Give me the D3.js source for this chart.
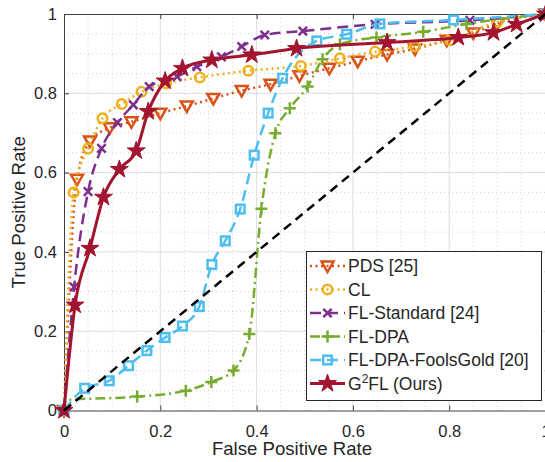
<!DOCTYPE html>
<html><head><meta charset="utf-8">
<script src="https://cdn.jsdelivr.net/npm/d3@7"></script>
<style>
body{margin:0;background:#fff}
svg{display:block;font-family:"Liberation Sans",Arial,Helvetica,sans-serif}
</style>
</head><body>
<svg id="chart" width="545" height="462"></svg>
<script>
// ---- data ----
const xTicks = [0, 0.2, 0.4, 0.6, 0.8, 1];
const yTicks = [0, 0.2, 0.4, 0.6, 0.8, 1];
const xTickLabels = ["0", "0.2", "0.4", "0.6", "0.8", "1"];
const yTickLabels = ["0", "0.2", "0.4", "0.6", "0.8", "1"];
const xLabel = "False Positive Rate";
const yLabel = "True Positive Rate";
const seriesNames = ["PDS [25]", "CL", "FL-Standard [24]", "FL-DPA", "FL-DPA-FoolsGold [20]", "G2FL (Ours)"];

const pdsFPR = [0, 0.027, 0.054, 0.095, 0.14, 0.2, 0.255, 0.31, 0.369, 0.429, 0.489, 0.551, 0.61, 0.671, 0.729, 0.795, 0.85, 0.9, 1];
const pdsTPR = [0, 0.583, 0.68, 0.713, 0.728, 0.75, 0.768, 0.787, 0.807, 0.823, 0.844, 0.863, 0.881, 0.898, 0.912, 0.934, 0.952, 0.977, 1];

const clFPR = [0, 0.02, 0.05, 0.08, 0.12, 0.161, 0.212, 0.282, 0.383, 0.492, 0.573, 0.646, 0.729, 0.802, 0.9, 1];
const clTPR = [0, 0.55, 0.661, 0.737, 0.773, 0.804, 0.825, 0.84, 0.857, 0.869, 0.888, 0.905, 0.918, 0.934, 0.98, 1];

const stdFPR = [0, 0.021, 0.05, 0.078, 0.111, 0.144, 0.177, 0.235, 0.276, 0.327, 0.369, 0.417, 0.496, 0.646, 0.843, 1];
const stdTPR = [0, 0.311, 0.552, 0.661, 0.726, 0.771, 0.817, 0.842, 0.867, 0.892, 0.918, 0.947, 0.957, 0.974, 0.984, 1];

const dpaFPR = [0, 0.004, 0.152, 0.253, 0.306, 0.352, 0.385, 0.41, 0.439, 0.469, 0.506, 0.537, 0.573, 0.649, 0.746, 0.836, 1];
const dpaTPR = [0, 0.026, 0.035, 0.05, 0.072, 0.101, 0.193, 0.509, 0.699, 0.762, 0.817, 0.886, 0.924, 0.941, 0.955, 0.975, 1];
const dpaNoMarker = [1];

const fgFPR = [0, 0.043, 0.094, 0.134, 0.172, 0.21, 0.246, 0.281, 0.307, 0.335, 0.366, 0.395, 0.424, 0.454, 0.525, 0.587, 0.656, 0.809, 1];
const fgTPR = [0, 0.056, 0.075, 0.113, 0.151, 0.184, 0.213, 0.262, 0.368, 0.428, 0.508, 0.644, 0.75, 0.838, 0.932, 0.949, 0.975, 0.985, 1];

const g2FPR = [0, 0.023, 0.054, 0.082, 0.115, 0.15, 0.175, 0.21, 0.246, 0.307, 0.39, 0.483, 0.671, 0.819, 0.892, 0.94, 1];
const g2TPR = [0, 0.266, 0.409, 0.538, 0.608, 0.655, 0.754, 0.831, 0.863, 0.884, 0.897, 0.913, 0.928, 0.941, 0.953, 0.974, 1];

const diagFPR = [0, 1];
const diagTPR = [0, 1];

// ---- styles ----
const colors = ["#D95319", "#EDB120", "#7E2F8E", "#77AC30", "#4DBEEE", "#A2142F"];
const dashes = ["2,3.5", "2,3.5", "11,6", "10,4,2,4", "11,6", null];
const markers = ["tri", "circle", "x", "plus", "square", "star"];
const widths = [2.5, 2.5, 2.5, 2.5, 2.5, 3];

const seriesData = [
  {fpr: pdsFPR, tpr: pdsTPR, skip: []},
  {fpr: clFPR, tpr: clTPR, skip: []},
  {fpr: stdFPR, tpr: stdTPR, skip: []},
  {fpr: dpaFPR, tpr: dpaTPR, skip: dpaNoMarker},
  {fpr: fgFPR, tpr: fgTPR, skip: []},
  {fpr: g2FPR, tpr: g2TPR, skip: []}
];

const W = 545, H = 462;
const L = 64, R = 545.5, T = 14, B = 410.5;
const x = d3.scaleLinear().domain([0, 1]).range([L, R]);
const y = d3.scaleLinear().domain([0, 1]).range([B, T]);

const svg = d3.select("#chart");
const textColor = "#262626";

// grid
const minor = d3.range(0.05, 1, 0.05).filter(v => Math.abs(v * 5 - Math.round(v * 5)) > 1e-6);
const grid = svg.append("g");
grid.selectAll(".mx").data(minor).join("line")
  .attr("x1", d => x(d)).attr("x2", d => x(d)).attr("y1", T).attr("y2", B)
  .attr("stroke", "#c8c8c8").attr("stroke-width", 0.8).attr("stroke-dasharray", "1,3");
grid.selectAll(".my").data(minor).join("line")
  .attr("y1", d => y(d)).attr("y2", d => y(d)).attr("x1", L).attr("x2", R)
  .attr("stroke", "#c8c8c8").attr("stroke-width", 0.8).attr("stroke-dasharray", "1,3");
grid.selectAll(".gx").data(xTicks.slice(1, -1)).join("line")
  .attr("x1", d => x(d)).attr("x2", d => x(d)).attr("y1", T).attr("y2", B)
  .attr("stroke", "#dedede").attr("stroke-width", 1);
grid.selectAll(".gy").data(yTicks.slice(1, -1)).join("line")
  .attr("y1", d => y(d)).attr("y2", d => y(d)).attr("x1", L).attr("x2", R)
  .attr("stroke", "#dedede").attr("stroke-width", 1);

// axes
const xAxis = d3.axisBottom(x).tickValues(xTicks).tickFormat((d, i) => xTickLabels[i])
  .tickSizeInner(-5).tickSizeOuter(0).tickPadding(14.5);
const yAxis = d3.axisLeft(y).tickValues(yTicks).tickFormat((d, i) => yTickLabels[i])
  .tickSizeInner(-5).tickSizeOuter(0).tickPadding(7);
const gx = svg.append("g").attr("transform", `translate(0,${B})`).call(xAxis);
const gy = svg.append("g").attr("transform", `translate(${L},0)`).call(yAxis);
// top axis line and ticks
const gt = svg.append("g").attr("transform", `translate(0,${T})`)
  .call(d3.axisTop(x).tickValues(xTicks).tickFormat("").tickSizeInner(-5).tickSizeOuter(0));
[gx, gy, gt].forEach(g => {
  g.select(".domain").attr("stroke", "#404040").attr("stroke-width", 1);
  g.selectAll(".tick line").attr("stroke", "#404040");
  g.selectAll("text").attr("fill", textColor).style("font-size", "16.5px")
    .style("font-family", '"Liberation Sans",Arial,sans-serif');
});

// axis labels
svg.append("text").attr("x", 292).attr("y", 455).attr("text-anchor", "middle")
  .attr("fill", textColor).style("font-size", "18.6px").text(xLabel);
svg.append("text").attr("transform", `translate(25,${(T + B) / 2}) rotate(-90)`)
  .attr("text-anchor", "middle").attr("fill", textColor).style("font-size", "18.6px").text(yLabel);

// marker drawing
function drawMarker(g, type, color, cx, cy) {
  const m = g.append("g").attr("transform", `translate(${cx},${cy})`);
  if (type === "tri") {
    m.append("path").attr("d", "M-6,-4.5L6,-4.5L0,6Z").attr("fill", "none")
      .attr("stroke", color).attr("stroke-width", 2.5).attr("stroke-linejoin", "miter");
  } else if (type === "circle") {
    m.append("circle").attr("r", 4.8).attr("fill", "none").attr("stroke", color).attr("stroke-width", 2.5);
  } else if (type === "square") {
    m.append("rect").attr("x", -4.3).attr("y", -4.3).attr("width", 8.6).attr("height", 8.6)
      .attr("fill", "none").attr("stroke", color).attr("stroke-width", 2.5);
  } else if (type === "x") {
    m.append("path").attr("d", "M-4.2,-4.2L4.2,4.2M-4.2,4.2L4.2,-4.2").attr("stroke", color).attr("stroke-width", 2.5);
  } else if (type === "plus") {
    m.append("path").attr("d", "M-6,0L6,0M0,-6L0,6").attr("stroke", color).attr("stroke-width", 2.5);
  } else if (type === "star") {
    m.append("path").attr("d", d3.symbol(d3.symbolStar, 100)()).attr("fill", color)
      .attr("stroke", color).attr("stroke-width", 1);
  }
}

const plot = svg.append("g");
const line = d3.line().x(d => x(d[0])).y(d => y(d[1])).curve(d3.curveMonotoneX);

seriesData.forEach((s, i) => {
  const pts = s.fpr.map((f, j) => [f, s.tpr[j]]);
  const p = plot.append("path").datum(pts).attr("d", line).attr("fill", "none")
    .attr("stroke", colors[i]).attr("stroke-width", widths[i]).attr("stroke-linejoin", "round");
  if (dashes[i]) p.attr("stroke-dasharray", dashes[i]);
  const mg = plot.append("g");
  pts.forEach((pt, j) => {
    if (s.skip.includes(j)) return;
    drawMarker(mg, markers[i], colors[i], x(pt[0]), y(pt[1]));
  });
});

// diagonal reference line
plot.append("path").datum(diagFPR.map((f, j) => [f, diagTPR[j]]))
  .attr("d", d3.line().x(d => x(d[0])).y(d => y(d[1])))
  .attr("fill", "none").attr("stroke", "#000").attr("stroke-width", 2.5).attr("stroke-dasharray", "9,6");

// legend
const lg = svg.append("g");
const lx = 306.5, ly = 251.5, lw = 235, lh = 149;
lg.append("rect").attr("x", lx).attr("y", ly).attr("width", lw).attr("height", lh)
  .attr("fill", "#fff").attr("stroke", "#262626").attr("stroke-width", 1);
seriesNames.forEach((name, i) => {
  const cy = 266 + i * 23.5;
  const l = lg.append("line").attr("x1", 310).attr("x2", 345).attr("y1", cy).attr("y2", cy)
    .attr("stroke", colors[i]).attr("stroke-width", widths[i]);
  if (dashes[i]) l.attr("stroke-dasharray", dashes[i]);
  drawMarker(lg, markers[i], colors[i], 327.5, cy);
  const t = lg.append("text").attr("x", 348).attr("y", cy + 6.3).attr("fill", textColor)
    .style("font-size", "17.5px");
  if (name.startsWith("G2")) {
    t.append("tspan").text("G");
    t.append("tspan").attr("dy", -7).style("font-size", "12px").text("2");
    t.append("tspan").attr("dy", 7).text(name.slice(2));
  } else {
    t.text(name);
  }
});
</script>
</body></html>
